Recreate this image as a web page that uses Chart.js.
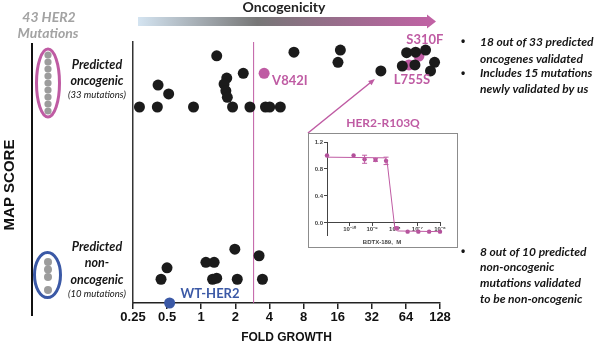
<!DOCTYPE html>
<html>
<head>
<meta charset="utf-8">
<title>HER2 MAP score vs fold growth</title>
<script src="https://cdn.jsdelivr.net/npm/chart.js@4.4.1/dist/chart.umd.min.js"></script>
<style>
  html, body { margin: 0; padding: 0; background: #fff; }
  #wrap { position: relative; width: 605px; height: 348px; overflow: hidden; }
  #mapChart { position: absolute; left: 0; top: 0; }
  #inset { position: absolute; left: 308px; top: 133px; width: 148px; height: 113px; border: 1px solid #8c8c8c; background: #fff; }
  #inset canvas { display: block; }
</style>
</head>
<body>
<div id="wrap">
  <canvas id="mapChart" width="605" height="348"></canvas>
  <div id="inset"><canvas id="doseChart" width="148" height="113"></canvas></div>
</div>
<script>
// x axis: fold growth, log2 steps
var foldTicks = [0.25, 0.5, 1, 2, 4, 8, 16, 32, 64, 128];
var foldTickLabels = ['0.25', '0.5', '1', '2', '4', '8', '16', '32', '64', '128'];
var foldCutoff = 2.9;

// predicted oncogenic mutations (fold growth, MAP score)
var oncoFold = [0.285, 0.41, 0.416, 0.516, 0.855, 1.37, 1.68, 1.59, 1.65, 1.70, 1.89, 2.35, 2.69,
                3.69, 4.02, 4.99, 6.58, 16.9, 16.1, 38.5, 65.0, 78.0, 95.5, 59.5, 76.9, 114.6, 105.6];
var oncoScore = [0.751, 0.751, 0.835, 0.801, 0.751, 0.947, 0.862, 0.839, 0.813, 0.788, 0.751, 0.880, 0.751,
                 0.751, 0.751, 0.751, 0.961, 0.969, 0.922, 0.889, 0.959, 0.961, 0.969, 0.908, 0.912, 0.922, 0.889];

// highlighted mutations
var namedLabels = ['V842I', 'S310F', 'L755S'];
var namedFold = [3.59, 83.4, 68.1];
var namedScore = [0.880, 0.946, 0.912];

// predicted non-oncogenic mutations
var nonFold = [0.442, 0.499, 1.10, 1.30, 1.26, 1.37, 1.98, 2.08, 3.24, 3.47];
var nonScore = [0.091, 0.135, 0.156, 0.156, 0.091, 0.095, 0.206, 0.091, 0.181, 0.091];

// wild type
var wtFold = [0.526];
var wtScore = [0];

// HER2-R103Q dose response to BDTX-189
var doseM = [1e-11, 1.5e-10, 4.6e-10, 1.4e-9, 4.1e-9, 1.2e-8, 3.7e-8, 1.1e-7, 3.3e-7, 1e-6];
var doseResp = [1.0, 1.0, 0.944, 0.933, 0.92, -0.08, -0.13, -0.13, -0.13, -0.13];
var doseErr = [0, 0, 0.06, 0.02, 0.055, 0.02, 0, 0, 0, 0];
var fitM = [1e-11, 3.5e-9, 4.5e-9, 1.0e-8, 1.3e-8, 1e-6];
var fitResp = [0.975, 0.965, 0.93, -0.08, -0.12, -0.13];
var doseTicks = [1e-10, 1e-9, 1e-8, 1e-7, 1e-6];
var doseTickLabels = ['10\u207B\u00B9\u2070', '10\u207B\u2079', '10\u207B\u2078', '10\u207B\u2077', '10\u207B\u2076'];
var respTicks = [0, 0.4, 0.8, 1.2];

var PINK = '#bf5ba3';
var BLUE = '#3b59a6';
var DOT = '#1b1b1b';
var CAL = 'Lato, "Open Sans", sans-serif';
var ARIAL = '"Liberation Sans", Arial, sans-serif';

function toXY(xs, ys) {
    return xs.map(function (x, i) { return { x: x, y: ys[i] }; });
}

function txt(ctx, s, x, y, font, color, align) {
    ctx.font = font;
    ctx.fillStyle = color;
    ctx.textAlign = align || 'center';
    ctx.textBaseline = 'middle';
    ctx.fillText(s, x, y);
}

var overlay = {
    id: 'overlay',
    beforeDatasetsDraw: function (chart) {
        var ctx = chart.ctx, area = chart.chartArea;
        var x = chart.scales.x.getPixelForValue(foldCutoff);
        ctx.save();
        ctx.strokeStyle = PINK;
        ctx.lineWidth = 1;
        ctx.beginPath();
        ctx.moveTo(x, area.top);
        ctx.lineTo(x, area.bottom);
        ctx.stroke();
        ctx.restore();
    },
    afterDraw: function (chart) {
        var ctx = chart.ctx;
        var sx = chart.scales.x, sy = chart.scales.y;
        ctx.save();

        // oncogenicity arrow
        var grad = ctx.createLinearGradient(138, 0, 436, 0);
        grad.addColorStop(0, '#d4e4f1');
        grad.addColorStop(0.4, '#777777');
        grad.addColorStop(1, '#c261a5');
        ctx.fillStyle = grad;
        ctx.beginPath();
        ctx.moveTo(138, 17);
        ctx.lineTo(427, 17);
        ctx.lineTo(427, 14.5);
        ctx.lineTo(436, 21.5);
        ctx.lineTo(427, 28.5);
        ctx.lineTo(427, 26);
        ctx.lineTo(138, 26);
        ctx.closePath();
        ctx.fill();
        txt(ctx, 'Oncogenicity', 284, 7, 'bold 14px ' + CAL, '#222');

        // left bracket line
        ctx.strokeStyle = '#111';
        ctx.lineWidth = 2;
        ctx.beginPath();
        ctx.moveTo(32, 43);
        ctx.lineTo(32, 316);
        ctx.stroke();

        txt(ctx, '43 HER2', 49, 17, 'italic bold 14px ' + CAL, '#a3a3a3');
        txt(ctx, 'Mutations', 48, 33, 'italic bold 14px ' + CAL, '#a3a3a3');

        // group ovals with stacked mutation dots
        ctx.fillStyle = '#9c9c9c';
        for (var y = 55; y <= 112; y += 7) {
            ctx.beginPath(); ctx.arc(48, y, 3.6, 0, Math.PI * 2); ctx.fill();
        }
        [262, 269.5, 277, 290].forEach(function (y) {
            ctx.beginPath(); ctx.arc(48, y, 4, 0, Math.PI * 2); ctx.fill();
        });
        ctx.lineWidth = 3;
        ctx.strokeStyle = PINK;
        ctx.beginPath(); ctx.ellipse(48, 83, 11.5, 34, 0, 0, Math.PI * 2); ctx.stroke();
        ctx.strokeStyle = BLUE;
        ctx.beginPath(); ctx.ellipse(47.5, 275, 13, 22.5, 0, 0, Math.PI * 2); ctx.stroke();

        var grp = 'italic bold 12.5px ' + CAL, sub = 'italic 9.5px ' + CAL;
        txt(ctx, 'Predicted', 97, 65, grp, '#151515');
        txt(ctx, 'oncogenic', 97, 80.5, grp, '#151515');
        txt(ctx, '(33 mutations)', 97, 95, sub, '#151515');
        txt(ctx, 'Predicted', 97, 247, grp, '#151515');
        txt(ctx, 'non-', 97, 263, grp, '#151515');
        txt(ctx, 'oncogenic', 97, 280, grp, '#151515');
        txt(ctx, '(10 mutations)', 97, 293.5, sub, '#151515');

        // y axis title
        ctx.save();
        ctx.translate(10, 185);
        ctx.rotate(-Math.PI / 2);
        txt(ctx, 'MAP SCORE', 0, 0, 'bold 15px ' + ARIAL, '#111');
        ctx.restore();

        // mutation labels next to their points
        var lab = 'bold 13px ' + CAL;
        var offs = [[8, 7, 'left'], [6, -16, 'center'], [3, 15, 'center']];
        namedLabels.forEach(function (s, i) {
            var px = sx.getPixelForValue(namedFold[i]), py = sy.getPixelForValue(namedScore[i]);
            txt(ctx, s, px + offs[i][0], py + offs[i][1], lab, PINK, offs[i][2]);
        });
        var wx = sx.getPixelForValue(wtFold[0]), wy = sy.getPixelForValue(wtScore[0]);
        txt(ctx, 'WT-HER2', wx + 11, wy - 9, lab, BLUE, 'left');

        // connector from inset to the R103Q point
        var tx = sx.getPixelForValue(oncoFold[19]) - 6, ty = sy.getPixelForValue(oncoScore[19]) + 8;
        var ang = Math.atan2(ty - 133, tx - 308);
        ctx.strokeStyle = PINK;
        ctx.fillStyle = PINK;
        ctx.lineWidth = 1.5;
        ctx.beginPath();
        ctx.moveTo(308, 133);
        ctx.lineTo(tx - 4 * Math.cos(ang), ty - 4 * Math.sin(ang));
        ctx.stroke();
        ctx.beginPath();
        ctx.moveTo(tx, ty);
        ctx.lineTo(tx - 7 * Math.cos(ang - 0.4), ty - 7 * Math.sin(ang - 0.4));
        ctx.lineTo(tx - 7 * Math.cos(ang + 0.4), ty - 7 * Math.sin(ang + 0.4));
        ctx.closePath();
        ctx.fill();
        txt(ctx, 'HER2-R103Q', 383, 123, 'bold 12px ' + CAL, PINK);

        // notes on the right
        var note = 'italic bold 12px ' + CAL;
        txt(ctx, '\u2022', 463, 42, 'bold 12px ' + ARIAL, '#151515');
        txt(ctx, '18 out of 33 predicted', 480, 42, note, '#151515', 'left');
        txt(ctx, 'oncogenes validated', 480, 59, note, '#151515', 'left');
        txt(ctx, '\u2022', 463, 73.5, 'bold 12px ' + ARIAL, '#151515');
        txt(ctx, 'Includes 15 mutations', 480, 73.5, note, '#151515', 'left');
        txt(ctx, 'newly validated by us', 480, 89, note, '#151515', 'left');
        txt(ctx, '\u2022', 463, 252, 'bold 12px ' + ARIAL, '#151515');
        txt(ctx, '8 out of 10 predicted', 480, 252, note, '#151515', 'left');
        txt(ctx, 'non-oncogenic', 480, 267.5, note, '#151515', 'left');
        txt(ctx, 'mutations validated', 480, 283, note, '#151515', 'left');
        txt(ctx, 'to be non-oncogenic', 480, 299, note, '#151515', 'left');

        ctx.restore();
    }
};

var dotStyle = { pointRadius: 5.5, pointHoverRadius: 5.5, borderWidth: 0, clip: false };

new Chart(document.getElementById('mapChart'), {
    type: 'scatter',
    data: {
        datasets: [
            Object.assign({ label: 'Predicted oncogenic', data: toXY(oncoFold, oncoScore), backgroundColor: DOT }, dotStyle),
            Object.assign({ label: 'Predicted non-oncogenic', data: toXY(nonFold, nonScore), backgroundColor: DOT }, dotStyle),
            Object.assign({ label: 'Validated examples', data: toXY(namedFold, namedScore), backgroundColor: PINK }, dotStyle),
            Object.assign({ label: 'WT-HER2', data: toXY(wtFold, wtScore), backgroundColor: BLUE }, dotStyle)
        ]
    },
    options: {
        responsive: false,
        animation: false,
        layout: { padding: { top: 42, right: 165, left: 0, bottom: 0 } },
        plugins: { legend: { display: false }, tooltip: { enabled: false } },
        scales: {
            x: {
                type: 'logarithmic',
                min: 0.25,
                max: 128,
                afterBuildTicks: function (s) { s.ticks = foldTicks.map(function (v) { return { value: v }; }); },
                afterFit: function (s) { s.height = 45; },
                ticks: {
                    autoSkip: false,
                    maxRotation: 0,
                    padding: 1,
                    color: '#111',
                    font: { family: ARIAL, size: 13, weight: 'bold' },
                    callback: function (v, i) { return foldTickLabels[i]; }
                },
                grid: { display: true, drawOnChartArea: false, tickLength: 6, color: '#222', lineWidth: 1.5 },
                border: { color: '#222', width: 1.5 },
                title: {
                    display: true,
                    text: 'FOLD GROWTH',
                    color: '#111',
                    font: { family: ARIAL, size: 12, weight: 'bold' },
                    padding: { top: 0, bottom: 3 }
                }
            },
            y: {
                min: 0,
                max: 1,
                afterFit: function (s) { s.width = 133; },
                ticks: { display: false },
                grid: { display: false },
                border: { color: '#333', width: 1.5 }
            }
        }
    },
    plugins: [overlay]
});

var errorBars = {
    id: 'errorBars',
    afterDatasetsDraw: function (chart) {
        var ctx = chart.ctx, sx = chart.scales.x, sy = chart.scales.y;
        ctx.save();
        ctx.strokeStyle = PINK;
        ctx.lineWidth = 1;
        doseM.forEach(function (m, i) {
            if (!doseErr[i]) return;
            var x = sx.getPixelForValue(m);
            var y1 = sy.getPixelForValue(doseResp[i] + doseErr[i]);
            var y2 = sy.getPixelForValue(doseResp[i] - doseErr[i]);
            ctx.beginPath();
            ctx.moveTo(x, y1); ctx.lineTo(x, y2);
            ctx.moveTo(x - 2.5, y1); ctx.lineTo(x + 2.5, y1);
            ctx.moveTo(x - 2.5, y2); ctx.lineTo(x + 2.5, y2);
            ctx.stroke();
        });
        txt(ctx, 'BDTX-189,  M', 73, 108, 'bold 6px ' + ARIAL, '#444');
        ctx.restore();
    }
};

var small = { family: ARIAL, size: 6, weight: 'bold' };

new Chart(document.getElementById('doseChart'), {
    type: 'scatter',
    data: {
        datasets: [
            { label: 'fit', data: toXY(fitM, fitResp), showLine: true, pointRadius: 0, borderColor: PINK, borderWidth: 1, fill: false, clip: false },
            { label: 'HER2-R103Q', data: toXY(doseM, doseResp), backgroundColor: '#b2509a', pointRadius: 2.2, borderWidth: 0, clip: false }
        ]
    },
    options: {
        responsive: false,
        animation: false,
        layout: { padding: { top: 8, right: 17, bottom: 12, left: 0 } },
        plugins: { legend: { display: false }, tooltip: { enabled: false } },
        scales: {
            x: {
                type: 'logarithmic',
                min: 1e-11,
                max: 1e-6,
                position: { y: 0 },
                afterFit: function (s) { s.height = 0; },
                afterBuildTicks: function (s) { s.ticks = doseTicks.map(function (v) { return { value: v }; }); },
                ticks: {
                    autoSkip: false,
                    maxRotation: 0,
                    padding: 0,
                    color: '#444',
                    font: small,
                    callback: function (v, i) { return doseTickLabels[i]; }
                },
                grid: { drawOnChartArea: false, tickLength: 3, color: '#444' },
                border: { color: '#444', width: 1 }
            },
            y: {
                min: -0.18,
                max: 1.2,
                afterFit: function (s) { s.width = 18; },
                afterBuildTicks: function (s) { s.ticks = respTicks.map(function (v) { return { value: v }; }); },
                ticks: {
                    padding: 1,
                    color: '#444',
                    font: small,
                    callback: function (v) { return v.toFixed(1); }
                },
                grid: { drawOnChartArea: false, tickLength: 3, color: '#444' },
                border: { color: '#444', width: 1 }
            }
        }
    },
    plugins: [errorBars]
});
</script>
</body>
</html>
